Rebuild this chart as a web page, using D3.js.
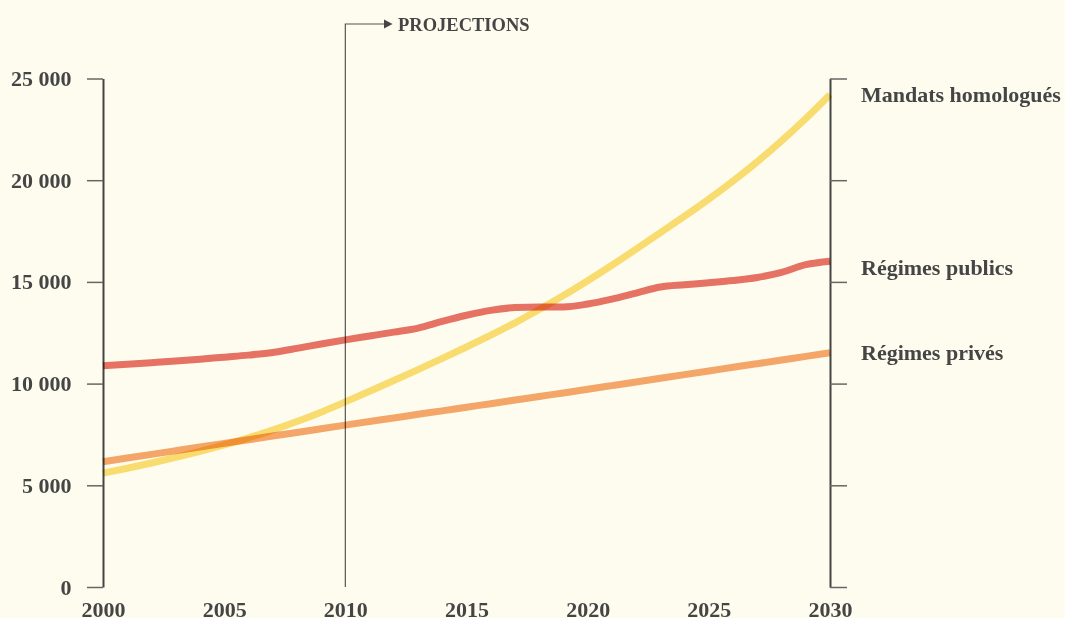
<!DOCTYPE html>
<html>
<head>
<meta charset="utf-8">
<script src="https://cdn.jsdelivr.net/npm/d3@7"></script>
<style>
  html, body { margin: 0; padding: 0; background: #fdfcee; }
  svg { display: block; font-family: "Liberation Serif", serif; font-weight: bold; }
  .axis text { fill: #454545; font-size: 22px; font-family: "Liberation Serif", serif; font-weight: bold; }
  .series { fill: none; stroke-width: 7; stroke-linecap: butt; mix-blend-mode: multiply; }
</style>
</head>
<body>
<div id="chart"></div>
<script>
/* ---- data ---- */
const years = d3.range(2000, 2031);
const mandats = [5600, 5840, 6095, 6370, 6665, 6985, 7335, 7715, 8135, 8595,
                 9100, 9620, 10150, 10690, 11240, 11800, 12380, 12990, 13640, 14330,
                 15060, 15820, 16610, 17420, 18230, 19070, 19960, 20910, 21930, 23030, 24200];
const publics = [10880, 10950, 11030, 11110, 11200, 11300, 11400, 11530, 11730, 11950,
                 12150, 12340, 12530, 12730, 13060, 13360, 13600, 13740, 13770, 13770,
                 13910, 14150, 14450, 14750, 14860, 14960, 15070, 15220, 15470, 15850, 16020];
const prives = [6160, 6340, 6520, 6700, 6880, 7060, 7240, 7420, 7600, 7780,
                7960, 8140, 8310, 8490, 8660, 8840, 9010, 9190, 9370, 9540,
                9720, 9900, 10080, 10260, 10440, 10620, 10800, 10980, 11160, 11340, 11520];
const seriesNames = ['Mandats homologués', 'Régimes publics', 'Régimes privés'];
const seriesColors = ['#fbdf78', '#e8736b', '#f6a86f'];
const yTicks = [0, 5000, 10000, 15000, 20000, 25000];
const xTicks = [2000, 2005, 2010, 2015, 2020, 2025, 2030];
const projectionYear = 2010;
const projectionLabel = 'PROJECTIONS';

const W = 1065, H = 618;
const svg = d3.select('#chart').append('svg').attr('width', W).attr('height', H);

const x = d3.scaleLinear().domain([2000, 2030]).range([103, 830]);
const y = d3.scaleLinear().domain([0, 25000]).range([587, 78.5]);

const fr = d3.formatLocale({ decimal: ',', thousands: '\u00a0', grouping: [3], currency: ['', ' €'] });
const fmt = fr.format(',d');

/* left axis */
const gl = svg.append('g').attr('class', 'axis').attr('transform', `translate(${x(2000)},0)`)
  .call(d3.axisLeft(y).tickValues(yTicks).tickFormat(fmt).tickSize(16).tickSizeOuter(0).tickPadding(15.5));
gl.select('.domain').attr('stroke', '#444').attr('stroke-width', 2);
gl.selectAll('.tick line').attr('stroke', '#666').attr('stroke-width', 1.5);

/* right axis */
const gr = svg.append('g').attr('class', 'axis').attr('transform', `translate(${x(2030)},0)`)
  .call(d3.axisRight(y).tickValues(yTicks).tickFormat('').tickSize(17).tickSizeOuter(0));
gr.select('.domain').attr('stroke', '#444').attr('stroke-width', 2);
gr.selectAll('.tick line').attr('stroke', '#666').attr('stroke-width', 1.5);

/* bottom labels */
const gb = svg.append('g').attr('class', 'axis').attr('transform', `translate(0,${y(0)})`)
  .call(d3.axisBottom(x).tickValues(xTicks).tickFormat(d3.format('d')).tickSize(0).tickPadding(14.5));
gb.select('.domain').remove();

/* projections marker */
const px = x(projectionYear);
svg.append('path')
  .attr('d', `M${px},${y(0)}V24H386`)
  .attr('fill', 'none').attr('stroke', '#555').attr('stroke-width', 1.2);
svg.append('path')
  .attr('d', 'M384,19.5L392.5,24L384,28.5Z')
  .attr('fill', '#444');
svg.append('text').attr('x', 398).attr('y', 31)
  .style('font-size', '18.5px').style('fill', '#454545').text(projectionLabel);

/* lines */
const allSeries = [mandats, publics, prives];
const line = d3.line().x((d, i) => x(years[i])).y(d => y(d)).curve(d3.curveMonotoneX);
svg.append('g').selectAll('path').data(allSeries).join('path')
  .attr('class', 'series')
  .attr('stroke', (d, i) => seriesColors[i])
  .attr('d', line);

/* end labels */
const labelNudge = [0, 7, 0];
svg.append('g').selectAll('text').data(allSeries).join('text')
  .attr('x', 861)
  .attr('y', (d, i) => y(d[d.length - 1]) + labelNudge[i])
  .attr('dy', '0.33em')
  .style('font-size', '22px').style('fill', '#454545')
  .text((d, i) => seriesNames[i]);
</script>
</body>
</html>
